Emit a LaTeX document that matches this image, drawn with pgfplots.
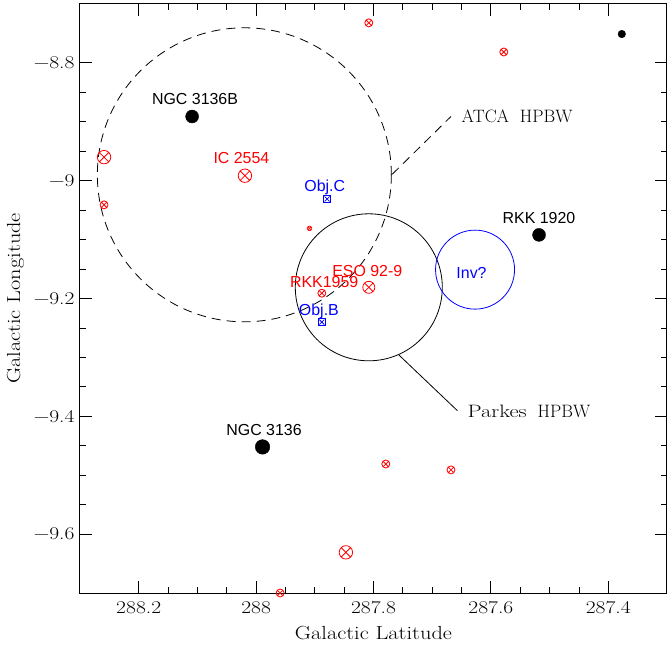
\documentclass[border=0pt]{standalone}
\usepackage{pgfplots}
\pgfplotsset{compat=1.18}
\usepackage{graphicx}
\usepackage{fontspec}
\newfontfamily\arial{Liberation Sans}
\newcommand{\wide}[1]{\scalebox{1.2}[1]{#1}}
\begin{document}
\begin{tikzpicture}
\begin{axis}[
  scale only axis, width=587bp, height=589bp,
  x dir=reverse,
  xmin=287.3, xmax=288.3, ymin=-9.7, ymax=-8.7,
  xtick={287.4,287.6,287.8,288,288.2},
  xticklabels={\wide{287.4},\wide{287.6},\wide{287.8},\wide{288},\wide{288.2}},
  ytick={-9.6,-9.4,-9.2,-9,-8.8},
  yticklabels={\wide{−9.6},\wide{−9.4},\wide{−9.2},\wide{−9},\wide{−8.8}},
  minor tick num=3,
  tick align=inside, xtick pos=both, ytick pos=both,
  major tick length=12bp, minor tick length=6bp,
  tick style={black, line width=0.8bp},
  axis line style={line width=1bp},
  ticklabel style={font=\fontsize{18}{22}\selectfont},
  xticklabel style={yshift=-5bp},
  yticklabel style={xshift=-2bp},
  xlabel={\scalebox{1.18}[1]{Galactic Latitude}}, ylabel={\scalebox{1.18}[1]{Galactic Longitude}},
  label style={font=\fontsize{19}{23}\selectfont},
  xlabel style={at={(axis description cs:0.5,-0.068)}, anchor=center},
  ylabel style={at={(axis description cs:-0.11,0.5)}, anchor=center},
  clip=true,
]
% black dots
\addplot[only marks, mark=*, mark size=6.5bp, black] coordinates {(288.109,-8.891) (287.518,-9.092)};
\addplot[only marks, mark=*, mark size=7.3bp, black] coordinates {(287.989,-9.452)};
\addplot[only marks, mark=*, mark size=3.8bp, black] coordinates {(287.377,-8.751)};
% red big
\addplot[only marks, mark=otimes, mark size=6.7bp, red, mark options={line width=0.8bp}] coordinates {(288.259,-8.960) (288.019,-8.9915) (287.847,-9.631)};
\addplot[only marks, mark=otimes, mark size=6bp, red, mark options={line width=0.8bp}] coordinates {(287.808,-9.181)};
% red small
\addplot[only marks, mark=otimes, mark size=4bp, red, mark options={line width=0.8bp}] coordinates {(288.259,-9.041) (287.808,-8.732) (287.578,-8.7815) (287.888,-9.191) (287.779,-9.481) (287.668,-9.491) (287.959,-9.700)};
\addplot[only marks, mark=otimes, mark size=2.3bp, red, mark options={line width=0.7bp}] coordinates {(287.909,-9.081)};
% blue boxes
\addplot[only marks, mark=square, mark size=3.5bp, blue, mark options={line width=0.8bp}] coordinates {(287.879,-9.031) (287.888,-9.240)};
\addplot[only marks, mark=x, mark size=3.5bp, blue, mark options={line width=0.8bp}] coordinates {(287.879,-9.031) (287.888,-9.240)};
% beams
\draw[black, line width=0.8bp, dash pattern=on 9bp off 6bp] (axis cs:288.02,-8.99) circle[radius=147bp];
\draw[black, line width=0.8bp] (axis cs:287.808,-9.181) circle[radius=73.5bp];
\draw[blue, line width=0.8bp] (axis cs:287.627,-9.151) circle[radius=39.5bp];
\draw[black, line width=0.8bp, dash pattern=on 9bp off 6bp] (axis cs:287.768,-8.989) -- (axis cs:287.668,-8.891);
\draw[black, line width=0.8bp] (axis cs:287.7566,-9.296) -- (axis cs:287.657,-9.3905);
% labels
\begin{scope}[every node/.style={font=\arial\fontsize{16}{19}\selectfont, inner sep=0pt}]
\node[black] at (axis cs:288.104,-8.862) {NGC 3136B};
\node[red] at (axis cs:288.025,-8.962) {IC 2554};
\node[blue] at (axis cs:287.883,-9.0116) {Obj.C};
\node[black] at (axis cs:287.518,-9.0638) {RKK 1920};
\node[red] at (axis cs:287.8106,-9.1528) {ESO 92-9};
\node[red] at (axis cs:287.884,-9.1725) {RKK1959};
\node[blue] at (axis cs:287.893,-9.2224) {Obj.B};
\node[blue] at (axis cs:287.633,-9.157) {Inv?};
\node[black] at (axis cs:287.9865,-9.4233) {NGC 3136};
\end{scope}
\node[anchor=west, inner sep=0pt, font=\fontsize{18}{21}\selectfont] at (axis cs:287.650,-8.891) {ATCA\ \ HPBW};
\node[anchor=west, inner sep=0pt, font=\fontsize{18}{21}\selectfont] at (axis cs:287.640,-9.391) {\scalebox{1.25}[1]{Parkes}\ \ HPBW};
\end{axis}
\pgfresetboundingbox
\path[use as bounding box] ([xshift=-80bp,yshift=-53bp]current axis.south west) rectangle ([yshift=4bp]current axis.north east);
\end{tikzpicture}
\end{document}
